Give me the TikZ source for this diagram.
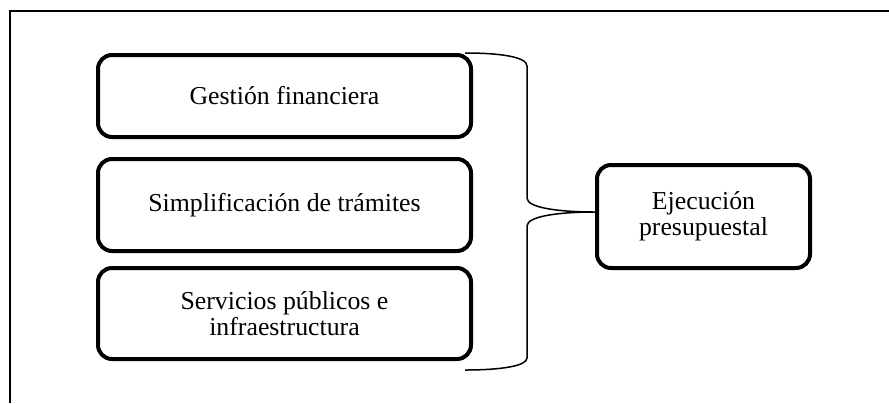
\documentclass[tikz,border=0pt]{standalone}
\usepackage{fontspec}
\setmainfont{Liberation Serif}
\begin{document}
\begin{tikzpicture}[x=0.5pt,y=-0.5pt,
        box/.style={draw,line width=2pt,rounded corners=7pt,align=center,inner sep=0pt,
            font=\fontsize{12.9}{13.2}\selectfont}]
        \useasboundingbox (0,0) rectangle (889,403);
        %% frame
        \draw[line width=1pt] (889,11) -- (10,11) -- (10,403);
        %% three boxes on the left
        \node[box,minimum width=186.5pt,minimum height=41pt] (gestion) at (284.5,96) {Gestión financiera};
        \node[box,minimum width=186.5pt,minimum height=46pt] (tramites) at (284.5,205) {Simplificación de trámites};
        \node[box,minimum width=186.5pt,minimum height=45.5pt] (servicios) at (284.5,313.5) {Servicios públicos e\\infraestructura};
        %% result
        \node[box,minimum width=106.5pt,minimum height=51.5pt] (ejecucion) at (703.5,216.5) {Ejecución\\presupuestal};
        %% brace
        \coordinate (top) at ([xshift=-4pt]gestion.north east);
        \coordinate (bottom) at ([xshift=-4pt,yshift=-4.5pt]servicios.south east);
        \coordinate (tip) at ([yshift=2.25pt]ejecucion.west);
        \draw[line width=0.75pt] (top) .. controls +(18pt,0) and (527,57) .. (527,66)
            -- (527,198) .. controls (527,208) and (560,212) .. (tip)
            .. controls (560,212) and (527,216) .. (527,226)
            -- (527,358) .. controls (527,366) and +(18pt,0) .. (bottom);
    \end{tikzpicture}
\end{document}
